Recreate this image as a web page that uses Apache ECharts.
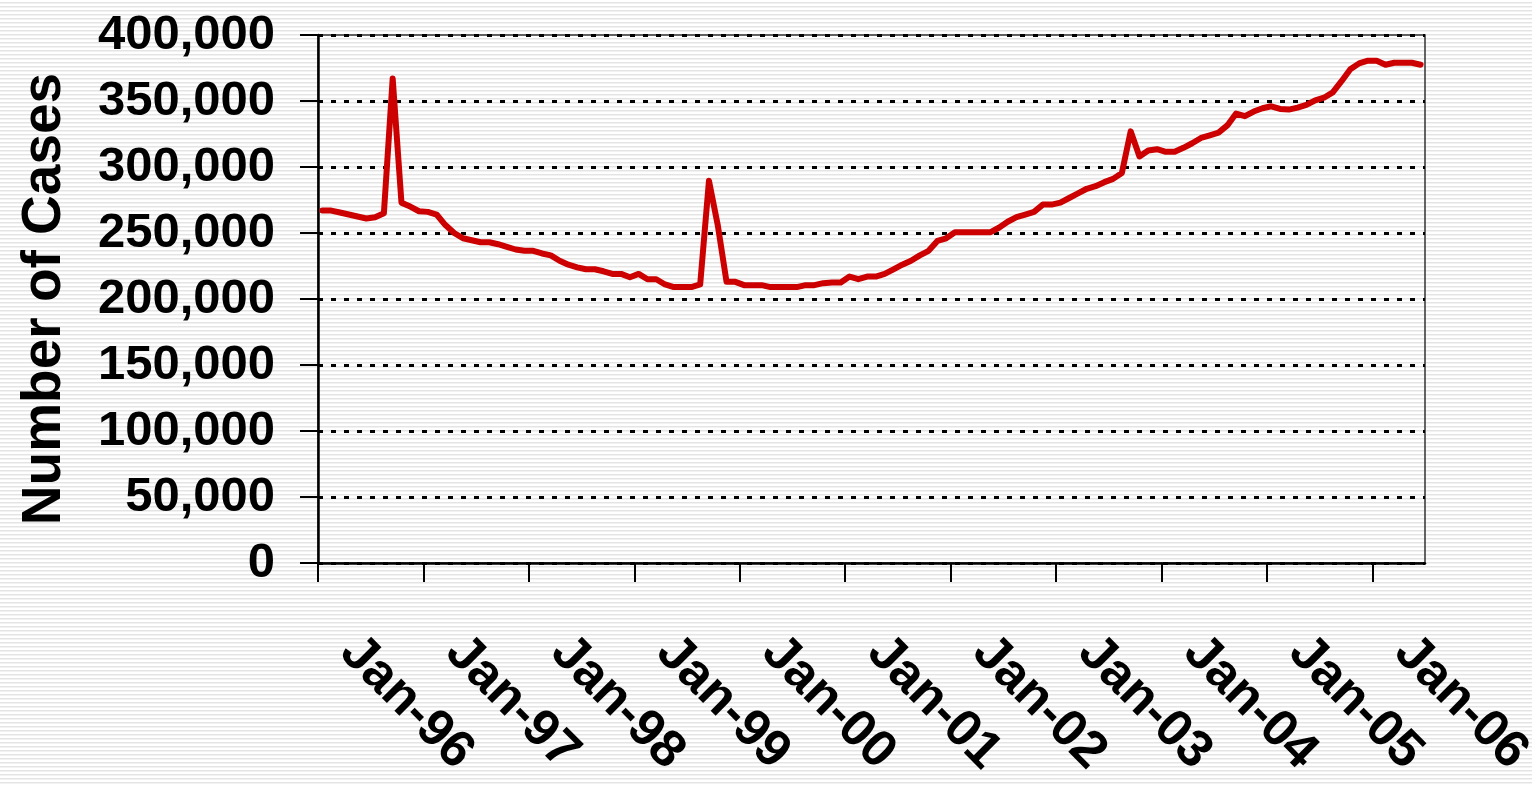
<!DOCTYPE html>
<html>
<head>
<meta charset="utf-8">
<script src="https://cdn.jsdelivr.net/npm/echarts@6/dist/echarts.min.js"></script>
<style>
  html, body { margin: 0; padding: 0; }
  #chart {
    width: 1532px;
    height: 785px;
    background: repeating-linear-gradient(to bottom, #ffffff 0px, #ffffff 2px, #e4e4e4 2px, #e4e4e4 3px, #f2f2f2 3px, #f2f2f2 4px);
  }
</style>
</head>
<body>
<div id="chart"></div>
<script>
// monthly case counts, Jan-96 .. Jun-06
const cases = [
  267000, 267000, 265500, 264000, 262500, 261000, 262000, 265000, 367000, 273000, 270000, 266500,
  266000, 264000, 256000, 250000, 246000, 244500, 243000, 243000, 241500, 239500, 237500, 236500,
  236500, 234500, 233000, 229000, 226000, 224000, 222500, 222500, 221000, 219000, 219000, 216500,
  219000, 215000, 215000, 211000, 209000, 209000, 209000, 211000, 289500, 256000, 213000, 213000,
  210500, 210500, 210500, 209000, 209000, 209000, 209000, 210500, 210500, 212000, 212500, 212500,
  217000, 215000, 217000, 217000, 219000, 222500, 226000, 229000, 233000, 236500, 244000, 246000,
  250500, 250500, 250500, 250500, 250500, 254000, 258500, 262000, 264000, 266000, 271500, 271500,
  273000, 276500, 280000, 283500, 285500, 288500, 291000, 295500, 327000, 308000, 312500, 313500,
  311500, 311500, 314500, 318000, 322000, 324000, 326000, 331500, 340500, 338500, 342000, 344500,
  346000, 344000, 343500, 345000, 347000, 350500, 352500, 356500, 365000, 374000, 378500, 380500,
  380500, 377500, 379000, 379000, 379000, 377500
];

// x tick labels, one per January (month index = 12 * position)
const yearLabels = ['Jan-96', 'Jan-97', 'Jan-98', 'Jan-99', 'Jan-00', 'Jan-01',
                    'Jan-02', 'Jan-03', 'Jan-04', 'Jan-05', 'Jan-06'];
const yearTicks = yearLabels.map((l, i) => i * 12);

const chart = echarts.init(document.getElementById('chart'));

const font = 'Liberation Sans, Arial, sans-serif';

const option = {
  backgroundColor: 'transparent',
  animation: false,
  grid: {
    left: 318,
    right: 107,
    top: 35,
    bottom: 222,
    outerBoundsMode: 'none',
    containLabel: false,
    show: true,
    borderColor: '#333',
    borderWidth: 1.5
  },
  xAxis: {
    type: 'value',
    min: 0,
    max: 126,
    interval: 12,
    axisLine: { show: true, onZero: false, lineStyle: { color: '#000', width: 2.5 } },
    axisTick: { show: true, length: 19, customValues: yearTicks, lineStyle: { color: '#000', width: 2 } },
    splitLine: { show: false },
    axisLabel: {
      customValues: yearTicks,
      rotate: -45,
      margin: 51,
      padding: [0, 0, 0, 43],
      color: '#000',
      fontFamily: font,
      fontWeight: 'bold',
      fontSize: 52,
      formatter: function (v) {
        return yearLabels[Math.round(v / 12)] || '';
      }
    }
  },
  yAxis: {
    type: 'value',
    min: 0,
    max: 400000,
    interval: 50000,
    name: 'Number of Cases',
    nameLocation: 'middle',
    nameRotate: 90,
    nameGap: 246,
    nameTextStyle: {
      color: '#000',
      fontFamily: font,
      fontWeight: 'bold',
      fontSize: 55
    },
    axisLine: { show: true, lineStyle: { color: '#000', width: 2.5 } },
    axisTick: { show: true, length: 18, lineStyle: { color: '#000', width: 2 } },
    splitLine: { show: true, lineStyle: { color: '#000', width: 3, type: [5, 8] } },
    axisLabel: {
      margin: 43,
      color: '#000',
      fontFamily: font,
      fontWeight: 'bold',
      fontSize: 49,
      formatter: function (v) {
        return v.toString().replace(/\B(?=(\d{3})+(?!\d))/g, ',');
      }
    }
  },
  series: [
    {
      type: 'line',
      data: cases.map((v, i) => [i + 0.5, v]),
      showSymbol: false,
      lineStyle: { color: '#cc0000', width: 6, cap: 'round', join: 'round' },
      itemStyle: { color: '#cc0000' }
    }
  ]
};

chart.setOption(option);
</script>
</body>
</html>
